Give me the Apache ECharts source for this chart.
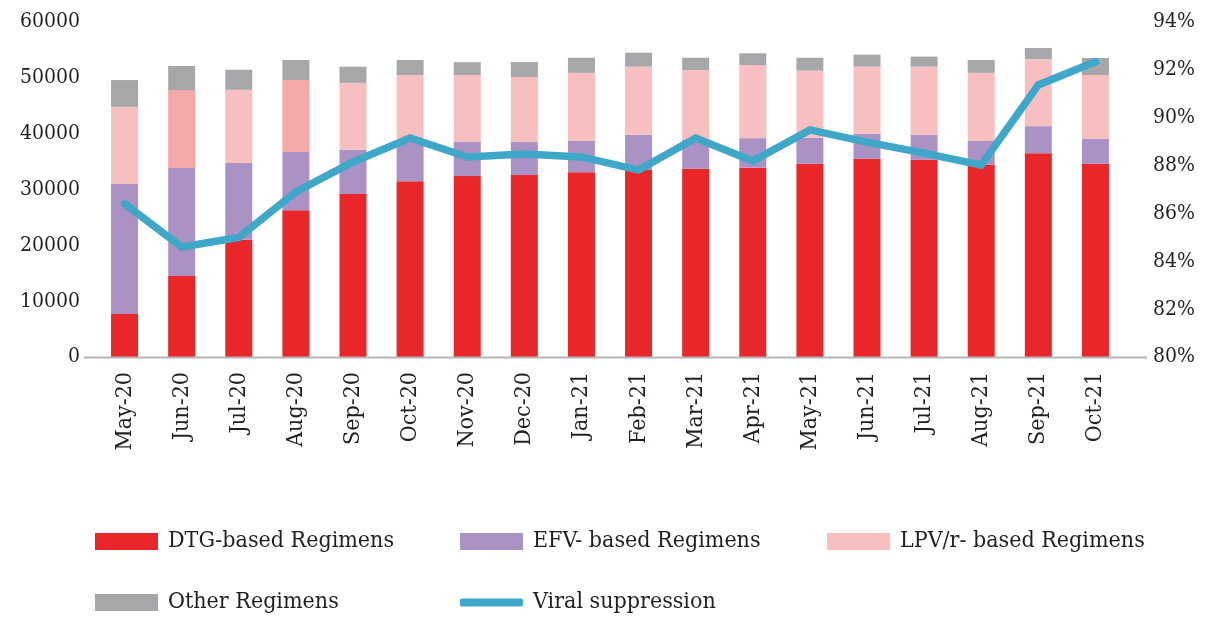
<!DOCTYPE html>
<html>
<head>
<meta charset="utf-8">
<script src="https://cdn.jsdelivr.net/npm/echarts@6/dist/echarts.min.js"></script>
<style>html,body{margin:0;padding:0;background:#fff}#c{width:1209px;height:618px}</style>
</head>
<body>
<div id="c"></div>
<script>
const categories = ['May-20','Jun-20','Jul-20','Aug-20','Sep-20','Oct-20','Nov-20','Dec-20','Jan-21','Feb-21','Mar-21','Apr-21','May-21','Jun-21','Jul-21','Aug-21','Sep-21','Oct-21'];
const dtg   = [7700,14500,21000,26300,29200,31500,32400,32600,33100,33500,33700,33900,34600,35500,35300,34400,36500,34600];
const efv   = [23300,19350,13750,10400,7900,7400,6100,5900,5600,6300,5200,5300,4700,4500,4500,4300,4850,4450];
const lpv   = [13800,13970,13100,12900,12000,11600,12000,11650,12200,12200,12500,13100,12000,12000,12200,12200,12000,11450];
const other = [4800,4300,3600,3600,2900,2700,2300,2700,2700,2500,2200,2100,2300,2150,1800,2300,2000,3050];
const viral = [86.4,84.6,85.0,86.9,88.15,89.15,88.36,88.48,88.36,87.81,89.15,88.19,89.49,88.98,88.52,88.02,91.37,92.34];
const leftTicks = {min:0, max:60000, interval:10000};
const rightTicks = {min:80, max:94, interval:2};

const darkerLpv = ['Jun-20','Aug-20'];
const LFONT = '"DejaVu Serif Condensed", "DejaVu Serif", "Liberation Serif", serif';
const txt = '#231f20';
const C = {dtg:'#e9262a', efv:'#ab92c4', lpv:'#f8bfc1', lpvDark:'#f5a8a8', other:'#a7a7aa', line:'#3fa7c7'};

const chart = echarts.init(document.getElementById('c'));
const barW = 27;
const legendItem = (name, color, left, top, extra) => Object.assign({
  data:[{name:name, itemStyle:{color:color}}], left:left, top:top, padding:0, itemWidth:63, itemHeight:17, itemGap:0, icon:'rect',
  textStyle:{fontFamily:LFONT, fontSize:23, color:txt, padding:[0,0,0,5]},
  selectedMode:false
}, extra||{});
chart.setOption({
  animation:false,
  grid:{left:96, right:85, top:22, bottom:261, containLabel:false},
  legend:[
    legendItem('DTG-based Regimens', C.dtg, 95, 530),
    legendItem('EFV- based Regimens', C.efv, 460, 530),
    legendItem('LPV/r- based Regimens', C.lpv, 827, 530),
    legendItem('Other Regimens', C.other, 95, 591),
    legendItem('Viral suppression', C.line, 460, 591, {itemHeight:8, icon:'roundRect'})
  ],
  xAxis:{type:'category', data:categories, boundaryGap:true,
    axisLine:{show:false}, axisTick:{show:false},
    axisLabel:{rotate:90, margin:15, fontFamily:LFONT, fontSize:23, color:txt, interval:0}},
  yAxis:[
    {type:'value', min:leftTicks.min, max:leftTicks.max, interval:leftTicks.interval, splitLine:{show:false},
      axisLine:{show:false}, axisTick:{show:false},
      axisLabel:{margin:16, formatter:v => String(v), fontFamily:LFONT, fontSize:21, color:txt}},
    {type:'value', min:rightTicks.min, max:rightTicks.max, interval:rightTicks.interval, position:'right', splitLine:{show:false},
      axisLine:{show:false}, axisTick:{show:false},
      axisLabel:{margin:29, formatter:'{value}%', fontFamily:LFONT, fontSize:21, color:txt}}
  ],
  series:[
    {name:'DTG-based Regimens', type:'bar', stack:'t', data:dtg, barWidth:barW, itemStyle:{color:C.dtg}},
    {name:'EFV- based Regimens', type:'bar', stack:'t', data:efv, barWidth:barW, itemStyle:{color:C.efv}},
    {name:'LPV/r- based Regimens', type:'bar', stack:'t', data:lpv, barWidth:barW,
      itemStyle:{color:p => darkerLpv.indexOf(p.name) >= 0 ? C.lpvDark : C.lpv}},
    {name:'Other Regimens', type:'bar', stack:'t', data:other, barWidth:barW, itemStyle:{color:C.other}},
    {name:'Viral suppression', type:'line', yAxisIndex:1, data:viral, showSymbol:false, symbol:'none',
      lineStyle:{width:7.5, color:C.line, cap:'round', join:'miter'}, itemStyle:{color:C.line}, z:5}
  ]
});
const y0 = Math.round(chart.convertToPixel({yAxisIndex:0}, 0)) + 0.5;
chart.setOption({graphic:[{type:'line', shape:{x1:84, y1:y0, x2:1147, y2:y0}, style:{stroke:'#b5b5b8', lineWidth:2}, z:10}]});
</script>
</body>
</html>
